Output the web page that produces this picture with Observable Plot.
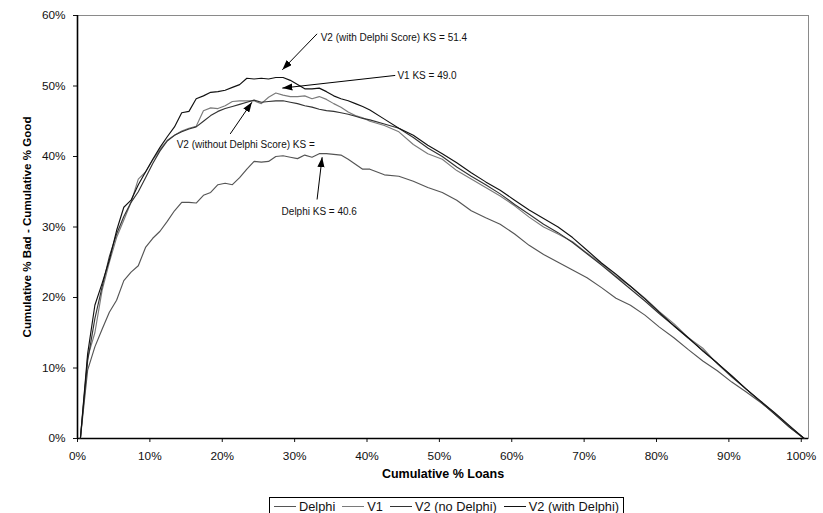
<!DOCTYPE html>
<html><head><meta charset="utf-8">
<script src="https://cdn.jsdelivr.net/npm/d3@7"></script>
<script src="https://cdn.jsdelivr.net/npm/@observablehq/plot@0.6"></script>
<style>
html,body{margin:0;padding:0;background:#fff;}
body{font-family:"Liberation Sans",Arial,sans-serif;position:relative;width:823px;height:513px;overflow:hidden;}
#chart{position:absolute;left:0;top:0;}
#legend{position:absolute;left:269px;top:497px;border:1px solid #000;padding:1px 4px 8px 4px;white-space:nowrap;font-size:12.8px;color:#111;display:flex;align-items:center;background:#fff;}
#legend .item{display:flex;align-items:center;margin-right:7px;}
#legend .item:last-child{margin-right:0;}
#legend .sw{display:inline-block;width:22px;height:0;border-top:1.2px solid #333;margin-right:3px;}
</style></head><body>
<div id="chart"></div>
<div id="legend"></div>
<script>
// Cumulative % Loans (x, in percent)
const loansPct = [0.4,1.4,2.4,3.4,4.4,5.4,6.4,7.4,8.4,9.4,10.4,11.4,12.4,13.4,14.4,15.4,16.4,17.4,18.4,19.4,20.4,21.4,22.4,23.4,24.4,25.4,26.4,27.4,28.4,29.4,30.4,31.4,32.4,33.4,34.4,35.4,36.4,37.4,38.4,39.4,40.4,42.4,44.4,46.4,48.4,50.4,52.4,54.4,56.4,58.4,60.4,62.4,64.4,66.4,68.4,70.4,72.4,74.4,76.4,78.4,80.4,82.4,84.4,86.4,88.4,90.4,92.4,94.4,96.4,98.4,100.4];

// Cumulative % Bad - Cumulative % Good (y, in percent)
const delphi = [0,9.7,13.0,15.5,17.9,19.6,22.4,23.6,24.5,27.1,28.4,29.4,30.8,32.3,33.5,33.5,33.4,34.5,34.9,36.0,36.2,36.0,37.0,38.2,39.3,39.2,39.3,40.0,40.1,39.9,39.7,40.2,39.9,40.4,40.4,40.3,40.2,39.6,38.9,38.2,38.2,37.4,37.2,36.5,35.6,34.9,33.8,32.3,31.3,30.4,29.0,27.4,26.1,25.0,23.9,22.8,21.4,19.9,18.9,17.5,15.8,14.3,12.6,11.0,9.6,8.0,6.6,5.1,3.5,1.6,0];
const v1 = [0,11.5,15.0,21.0,25.0,28.5,31.0,33.5,36.8,37.8,39.5,41.0,42.3,43.0,43.6,44.0,44.3,46.5,46.9,46.8,47.2,47.8,47.9,47.9,47.9,47.5,48.4,49.0,48.7,48.5,48.5,48.6,48.2,48.5,48.1,47.5,47.0,46.3,45.8,45.5,45.0,44.4,43.5,41.7,40.4,39.6,38.0,36.8,35.6,34.4,33.0,31.4,30.0,29.0,27.9,26.3,24.8,23.0,21.6,19.9,18.0,16.3,14.3,12.8,10.6,8.7,7.0,5.2,3.4,1.6,0];
const v2NoDelphi = [0,11.0,17.0,21.5,25.8,29.0,31.5,33.5,35.0,37.0,39.0,40.8,42.2,43.0,43.5,43.9,44.2,45.0,45.8,46.4,46.8,47.1,47.4,47.7,48.0,47.7,47.8,47.9,47.9,47.7,47.5,47.2,47.0,46.7,46.5,46.4,46.2,46.0,45.7,45.4,45.2,44.6,44.0,42.7,41.2,40.0,38.5,37.2,36.0,34.7,33.2,31.8,30.4,29.2,27.8,26.2,24.6,22.9,21.2,19.5,17.7,16.0,14.2,12.5,10.7,8.8,7.0,5.2,3.4,1.6,0];
const v2WithDelphi = [0,12.0,18.9,22.0,25.3,29.5,32.8,33.8,36.0,37.8,39.6,41.3,42.8,44.2,46.2,46.4,48.2,48.6,49.1,49.2,49.4,49.8,50.2,51.1,51.0,51.1,51.0,51.2,51.2,50.8,50.2,49.6,49.6,49.7,49.2,48.6,48.2,47.9,47.5,47.1,46.6,45.3,44.0,43.0,41.6,40.4,39.1,37.7,36.4,35.2,33.8,32.4,31.2,30.0,28.5,26.7,24.9,23.3,21.6,19.8,17.9,16.0,14.3,12.4,10.7,8.9,7.0,5.3,3.6,1.8,0];

const seriesNames = ["Delphi", "V1", "V2 (no Delphi)", "V2 (with Delphi)"];
const seriesColors = ["#555555", "#7a7a7a", "#333333", "#111111"];
const xTicks = [0,10,20,30,40,50,60,70,80,90,100];
const yTicks = [0,10,20,30,40,50,60];
const xTitle = "Cumulative % Loans";
const yTitle = "Cumulative % Bad - Cumulative % Good";

// Annotations (data coordinates)
const noteLabels = ["V2 (with Delphi Score) KS = 51.4", "V1 KS = 49.0", "V2 (without Delphi Score) KS =", "Delphi KS = 40.6"];
const noteTextX = [33.6, 44.2, 13.7, 28.2];
const noteTextY = [56.8, 51.4, 41.7, 32.2];
const arrowFromX = [33.1, 43.9, 21.1, 33.1];
const arrowFromY = [57.4, 51.5, 43.2, 33.9];
const arrowToX = [28.3, 28.3, 24.1, 33.8];
const arrowToY = [52.3, 49.7, 47.7, 39.9];

const seriesValues = [delphi, v1, v2NoDelphi, v2WithDelphi];
const rows = [];
seriesNames.forEach((name, si) => {
  loansPct.forEach((x, i) => rows.push({series: name, x, y: seriesValues[si][i]}));
});
const notes = noteLabels.map((label, i) => ({
  label, tx: noteTextX[i], ty: noteTextY[i],
  x1: arrowFromX[i], y1: arrowFromY[i], x2: arrowToX[i], y2: arrowToY[i]
}));

const font = "Liberation Sans, Arial, sans-serif";
const chart = Plot.plot({
  width: 823,
  height: 494,
  marginLeft: 77,
  marginRight: 15,
  marginTop: 15,
  marginBottom: 56,
  style: {fontFamily: font, fontSize: "11.8px", color: "#111", background: "transparent"},
  x: {domain: [0, 101], ticks: xTicks, tickFormat: d => d + "%", label: null, tickSize: 4, tickPadding: 9},
  y: {domain: [0, 60], ticks: yTicks, tickFormat: d => d + "%", label: null, tickSize: 4, tickPadding: 8},
  color: {domain: seriesNames, range: seriesColors},
  marks: [
    Plot.frame({stroke: "#8a8a8a", strokeWidth: 1}),
    Plot.ruleX([0], {stroke: "#000", strokeWidth: 1.6}),
    Plot.ruleY([0], {stroke: "#000", strokeWidth: 1.6}),
    Plot.line(rows, {x: "x", y: "y", z: "series", stroke: "series", strokeWidth: 1.15}),
    Plot.link(notes, {x1: "x1", y1: "y1", x2: "x2", y2: "y2", stroke: "#000", strokeWidth: 1, markerEnd: "arrow"}),
    Plot.text(notes, {x: "tx", y: "ty", text: "label", textAnchor: "start", fontSize: 10, fill: "#111"}),
    Plot.text([xTitle], {frameAnchor: "bottom", dy: 35, lineAnchor: "middle", textAnchor: "middle", fontWeight: "bold", fontSize: 12.5, fill: "#000"}),
    Plot.text([yTitle], {frameAnchor: "left", dx: -50, rotate: -90, textAnchor: "middle", lineAnchor: "middle", fontWeight: "bold", fontSize: 11.6, fill: "#000"})
  ]
});
document.getElementById("chart").appendChild(chart);

// Filled triangular arrowheads
chart.querySelectorAll("marker").forEach(m => {
  m.setAttribute("viewBox", "-10 -3.6 10 7.2");
  m.setAttribute("markerWidth", 10);
  m.setAttribute("markerHeight", 7.2);
  m.setAttribute("markerUnits", "userSpaceOnUse");
  m.setAttribute("refX", 0);
  m.setAttribute("refY", 0);
  m.setAttribute("fill", "#000");
  m.setAttribute("stroke", "none");
  while (m.firstChild) m.removeChild(m.firstChild);
  const p = document.createElementNS("http://www.w3.org/2000/svg", "path");
  p.setAttribute("d", "M0,0L-10,-3.6L-10,3.6Z");
  m.appendChild(p);
});

// Legend
const legend = d3.select("#legend");
seriesNames.forEach((name, i) => {
  const item = legend.append("span").attr("class", "item");
  item.append("span").attr("class", "sw").style("border-top-color", seriesColors[i]);
  item.append("span").text(name);
});
</script>
</body></html>
